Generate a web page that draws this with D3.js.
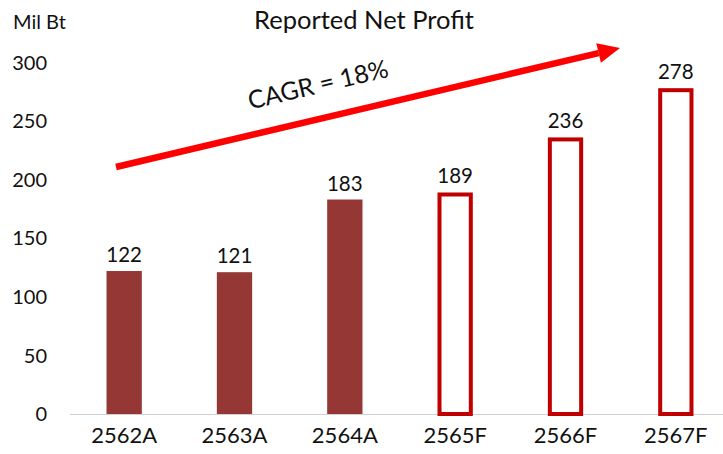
<!DOCTYPE html>
<html>
<head>
<script src="https://cdnjs.cloudflare.com/ajax/libs/d3/7.8.5/d3.min.js"></script>
<style>
  body { margin: 0; background: #fff; }
  text { font-family: Lato, "Open Sans", sans-serif; fill: #111; }
</style>
</head>
<body>
<div id="vis"></div>
<script>
const years = ["2562A", "2563A", "2564A", "2565F", "2566F", "2567F"];
const profit = [122, 121, 183, 189, 236, 278];
const forecast = [false, false, false, true, true, true];
const yTicks = [0, 50, 100, 150, 200, 250, 300];
const cagrLabel = "CAGR = 18%";

const width = 723, height = 454;
const svg = d3.select("#vis").append("svg")
    .attr("width", width)
    .attr("height", height);

const x = d3.scaleBand().domain(years).range([69, 731]).paddingInner(0.68).paddingOuter(0.34);
const y = d3.scaleLinear().domain([0, 300]).range([414, 62.4]);

// y labels, no axis line
svg.append("g").selectAll("text")
    .data(yTicks)
    .join("text")
    .attr("x", 47)
    .attr("y", d => y(d))
    .attr("dy", "0.36em")
    .attr("text-anchor", "end")
    .style("font-size", "20px")
    .text(d => d);

// baseline
svg.append("line")
    .attr("x1", 70).attr("x2", width)
    .attr("y1", y(0) + 0.5).attr("y2", y(0) + 0.5)
    .attr("stroke", "#d0d0d0").attr("stroke-width", 1);

const data = years.map((d, i) => ({year: d, v: profit[i], f: forecast[i]}));

svg.append("g").selectAll("rect")
    .data(data)
    .join("rect")
    .attr("x", d => d.f ? x(d.year) + 2 : x(d.year))
    .attr("y", d => d.f ? y(d.v) + 2 : y(d.v))
    .attr("width", d => d.f ? x.bandwidth() - 4 : x.bandwidth())
    .attr("height", d => d.f ? y(0) - y(d.v) - 2 : y(0) - y(d.v))
    .attr("fill", d => d.f ? "#fff" : "#953735")
    .attr("stroke", d => d.f ? "#c00000" : "none")
    .attr("stroke-width", 4);

svg.append("g").selectAll("text")
    .data(data)
    .join("text")
    .attr("x", d => x(d.year) + x.bandwidth() / 2)
    .attr("y", d => y(d.v) - 9)
    .attr("text-anchor", "middle")
    .style("font-size", "20.5px")
    .text(d => d.v);

svg.append("g").selectAll("text")
    .data(years)
    .join("text")
    .attr("x", d => x(d) + x.bandwidth() / 2)
    .attr("y", 443)
    .attr("text-anchor", "middle")
    .style("font-size", "22px")
    .text(d => d);

svg.append("text")
    .attr("x", 364).attr("y", 29)
    .attr("text-anchor", "middle")
    .style("font-size", "25.5px")
    .text("Reported Net Profit");

svg.append("text")
    .attr("x", 13).attr("y", 29)
    .style("font-size", "20px")
    .text("Mil Bt");

// trend arrow
const x0 = 116, y0 = 167, x1 = 620, y1 = 48;
const ang = Math.atan2(y1 - y0, x1 - x0);
const headLen = 22, headW = 10;
const bx = x1 - headLen * Math.cos(ang), by = y1 - headLen * Math.sin(ang);
svg.append("line")
    .attr("x1", x0).attr("y1", y0)
    .attr("x2", bx).attr("y2", by)
    .attr("stroke", "#ff0000").attr("stroke-width", 6.5);
const nx = -Math.sin(ang), ny = Math.cos(ang);
svg.append("path")
    .attr("d", `M${x1},${y1}L${bx + nx * headW},${by + ny * headW}L${bx - nx * headW},${by - ny * headW}Z`)
    .attr("fill", "#ff0000");

svg.append("text")
    .attr("transform", `translate(320,93) rotate(${ang * 180 / Math.PI})`)
    .attr("text-anchor", "middle")
    .style("font-size", "25px")
    .text(cagrLabel);
</script>
</body>
</html>
